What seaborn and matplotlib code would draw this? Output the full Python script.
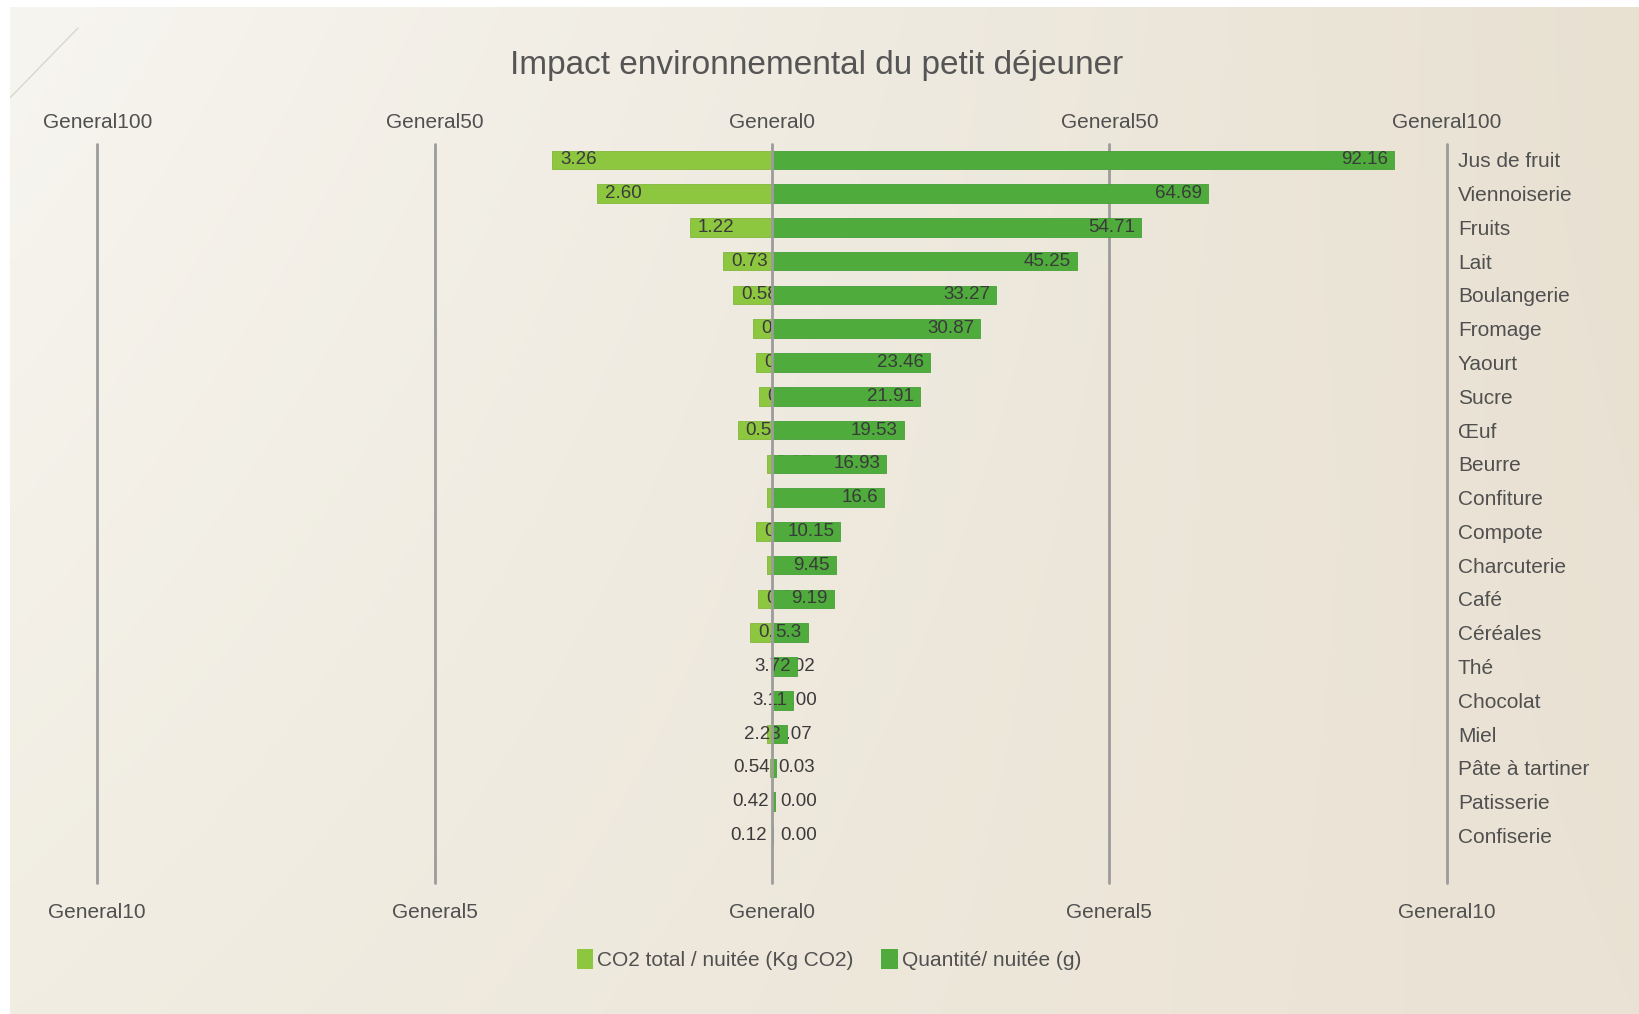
import numpy as np
import pandas as pd
import matplotlib
matplotlib.use("Agg")
import matplotlib.pyplot as plt
from matplotlib.patches import Patch
from matplotlib.lines import Line2D
import seaborn as sns

# ---------------- data ----------------
categories = ["Jus de fruit", "Viennoiserie", "Fruits", "Lait", "Boulangerie",
              "Fromage", "Yaourt", "Sucre", "Œuf", "Beurre", "Confiture",
              "Compote", "Charcuterie", "Café", "Céréales", "Thé", "Chocolat",
              "Miel", "Pâte à tartiner", "Patisserie", "Confiserie"]
co2_kg = [3.26, 2.60, 1.22, 0.73, 0.58, 0.28, 0.24, 0.19, 0.51, 0.07, 0.07,
          0.24, 0.07, 0.21, 0.32, 0.02, 0.00, 0.07, 0.03, 0.00, 0.00]
quantity_g = [92.16, 64.69, 54.71, 45.25, 33.27, 30.87, 23.46, 21.91, 19.53,
              16.93, 16.6, 10.15, 9.45, 9.19, 5.3, 3.72, 3.11, 2.23, 0.54,
              0.42, 0.12]
quantity_labels = ["92.16", "64.69", "54.71", "45.25", "33.27", "30.87", "23.46",
                   "21.91", "19.53", "16.93", "16.6", "10.15", "9.45", "9.19",
                   "5.3", "3.72", "3.11", "2.23", "0.54", "0.42", "0.12"]
co2_ticks = [-10, -5, 0, 5, 10]
co2_tick_labels = ["General10", "General5", "General0", "General5", "General10"]
qty_ticks = [-100, -50, 0, 50, 100]
qty_tick_labels = ["General100", "General50", "General0", "General50", "General100"]
title = "Impact environnemental du petit déjeuner"
legend_labels = ["CO2 total / nuitée (Kg CO2)", "Quantité/ nuitée (g)"]

df = pd.DataFrame({"cat": categories,
                   "co2_left": [-v for v in co2_kg],
                   "qty": quantity_g})

# ---------------- style ----------------
LIGHT = "#8dc63f"
DARK = "#4eab3c"
TXT = "#505050"
BARTXT = "#3a3a3a"
FONT = ["Liberation Sans", "DejaVu Sans"]

sns.set_theme(style="white")
plt.rcParams["font.family"] = FONT

W, H = 1639, 1014
fig = plt.figure(figsize=(W / 100, H / 100), dpi=100, facecolor="white")

# background gradient
bg = fig.add_axes([10 / W, 0, 1 - 10 / W, 1 - 7 / H], zorder=-10)
tl = np.array([247, 245, 240]) / 255
tr = np.array([232, 225, 210]) / 255
bl = np.array([241, 237, 226]) / 255
br = np.array([234, 226, 212]) / 255
u = np.linspace(0, 1, 200)[None, :, None]
v = np.linspace(0, 1, 120)[:, None, None]
grad = (1 - v) * ((1 - u) * tl + u * tr) + v * ((1 - u) * bl + u * br)
bg.imshow(grad, aspect="auto", extent=[0, 1, 0, 1], interpolation="bilinear")
bg.set_axis_off()

# decorative diagonal line
fig.add_artist(Line2D([0.0064, 0.0476], [0.904, 0.9724], transform=fig.transFigure,
                      color="#d8d8cc", lw=1.0))

left, right = 97.2 / W, 1446.7 / W
bottom, top = 1 - 883.3 / H, 1 - 144.3 / H
ax = fig.add_axes([left, bottom, right - left, top - bottom])
ax.patch.set_alpha(0)

# CO2 bars (left, own scale in kg)
sns.barplot(data=df, x="co2_left", y="cat", orient="h", ax=ax, color=LIGHT,
            saturation=1, width=0.55, edgecolor="#7fb83a", linewidth=0.6)
ax.set_xlim(-10, 10)
for i, v in enumerate(co2_kg):
    ax.text(-v + 0.12, i, f"{v:.2f}", ha="left", va="center", fontsize=13.5,
            color=BARTXT, family=FONT)

# Quantity bars (right, own scale in g) on twin axis drawn above
ax2 = ax.twiny()
sns.barplot(data=df, x="qty", y="cat", orient="h", ax=ax2, color=DARK,
            saturation=1, width=0.55, edgecolor="#44a036", linewidth=0.6)
ax2.set_xlim(-100, 100)
for i, (v, lab) in enumerate(zip(quantity_g, quantity_labels)):
    ax2.text(v - 0.9, i, lab, ha="right", va="center", fontsize=13.5,
             color=BARTXT, family=FONT, zorder=3)

for t in qty_ticks:
    ax2.axvline(t, color="#9c9c9c", lw=2, zorder=6 if t == 0 else 0.5, clip_on=False)

ax.set_ylim(21.42, -0.46)
ax2.set_ylim(21.42, -0.46)

# ticks
ax.set_xticks(co2_ticks)
ax.set_xticklabels(co2_tick_labels)
ax.tick_params(axis="x", length=0, pad=14, labelsize=15, labelcolor=TXT)
ax2.set_xticks(qty_ticks)
ax2.set_xticklabels(qty_tick_labels)
ax2.tick_params(axis="x", length=0, pad=9, labelsize=15, labelcolor=TXT)
ax.set_xlabel("")
ax2.set_xlabel("")
ax.set_ylabel("")
ax2.set_ylabel("")

ax.yaxis.tick_right()
ax.set_yticks(range(len(categories)))
ax.set_yticklabels(categories)
ax.tick_params(axis="y", length=0, pad=8, labelsize=15, labelcolor=TXT)
ax2.tick_params(axis="y", left=False, right=False)
for lab in ax.get_yticklabels():
    lab.set_horizontalalignment("left")

for a in (ax, ax2):
    for s in a.spines.values():
        s.set_visible(False)
    a.grid(False)

fig.text(0.4985, 1 - 63 * 1.0453 / H, title, ha="center", va="center",
         fontsize=24, color="#555555", family=FONT)

handles = [Patch(facecolor=LIGHT, edgecolor="none"), Patch(facecolor=DARK, edgecolor="none")]
fig.legend(handles, legend_labels, loc="center", bbox_to_anchor=(0.5057, 1 - 918 * 1.0453 / H),
           ncol=2, frameon=False, fontsize=15, handlelength=0.8, handleheight=1.1,
           handletextpad=0.2, columnspacing=1.3, labelcolor=TXT)

fig.savefig("out.png", dpi=100, facecolor="white")
